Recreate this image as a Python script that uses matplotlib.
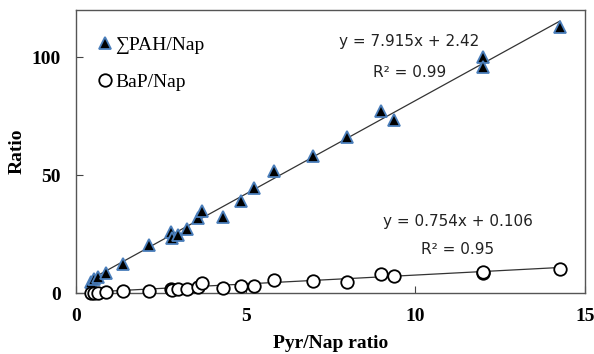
import matplotlib
matplotlib.use("Agg")
import matplotlib.pyplot as plt
import numpy as np

# Pyr/Nap ratio (x) shared by both series
pyr_nap = [0.44, 0.54, 0.64, 0.88, 1.37, 2.14, 2.79, 2.84, 2.99, 3.26, 3.60, 3.71,
           4.34, 4.85, 5.23, 5.83, 6.99, 7.99, 9.00, 9.36, 11.99, 11.99, 14.26]
pah_nap = [4.8, 6.0, 6.7, 8.4, 12.3, 20.3, 25.7, 23.3, 24.7, 27.1, 31.8, 34.6,
           32.2, 39.1, 44.6, 51.6, 58.0, 66.3, 77.1, 73.2, 100.1, 95.9, 112.9]
bap_nap = [0.0, 0.0, 0.2, 0.3, 1.0, 1.0, 1.8, 1.5, 1.6, 1.8, 2.7, 4.1,
           2.1, 3.1, 3.1, 5.5, 5.1, 4.5, 8.1, 7.2, 8.4, 8.8, 10.2]

# trendline coefficients as printed on the chart
pah_fit = (7.915, 2.42)
bap_fit = (0.754, 0.106)

serif = ['Liberation Serif', 'DejaVu Serif']

fig = plt.figure(figsize=(5.94, 3.54), dpi=100)
ax = fig.add_axes([0.128, 0.172, 0.857, 0.80])

x = np.array(pyr_nap)
xl = np.array([x.min(), x.max()])
ax.plot(xl, pah_fit[0] * xl + pah_fit[1], color='#333333', lw=0.9, zorder=2)
ax.plot(xl, bap_fit[0] * xl + bap_fit[1], color='#333333', lw=0.9, zorder=2)

ax.plot(pyr_nap, pah_nap, ls='none', marker='^', ms=8, mfc='black',
        mec='#4a7ebb', mew=1.3, label='∑PAH/Nap', clip_on=False, zorder=3)
ax.plot(pyr_nap, bap_nap, ls='none', marker='o', ms=9, mfc='white',
        mec='black', mew=1.3, label='BaP/Nap', clip_on=False, zorder=3)

ax.set_xlim(0, 15)
ax.set_ylim(0, 120)
ax.set_xticks([0, 5, 10, 15])
ax.set_yticks([0, 50, 100])
ax.tick_params(direction='in', length=5, width=0.8, color='#444444')
ax.tick_params(axis='x', pad=11)
ax.tick_params(axis='y', pad=11)
for lab in ax.get_xticklabels() + ax.get_yticklabels():
    lab.set_family(serif)
    lab.set_fontweight('bold')
    lab.set_fontsize(14)
for s in ax.spines.values():
    s.set_color('#555555')
    s.set_linewidth(1.0)

ax.set_xlabel('Pyr/Nap ratio', family=serif, fontweight='bold', fontsize=14, labelpad=7)
ax.set_ylabel('Ratio', family=serif, fontweight='bold', fontsize=14, labelpad=4)

leg = ax.legend(loc='upper left', frameon=False, prop={'family': serif, 'size': 14},
                handletextpad=-0.1, handlelength=1.2, labelspacing=1.0,
                bbox_to_anchor=(0.0, 0.97))

eq = dict(ha='center', va='center', fontsize=11, family='DejaVu Sans', color='#222222')
ax.text(9.82, 106.8, 'y = 7.915x + 2.42', **eq)
ax.text(9.82, 93.6, 'R² = 0.99', **eq)
ax.text(11.24, 30.3, 'y = 0.754x + 0.106', **eq)
ax.text(11.24, 18.3, 'R² = 0.95', **eq)

fig.savefig('out.png', dpi=100)
